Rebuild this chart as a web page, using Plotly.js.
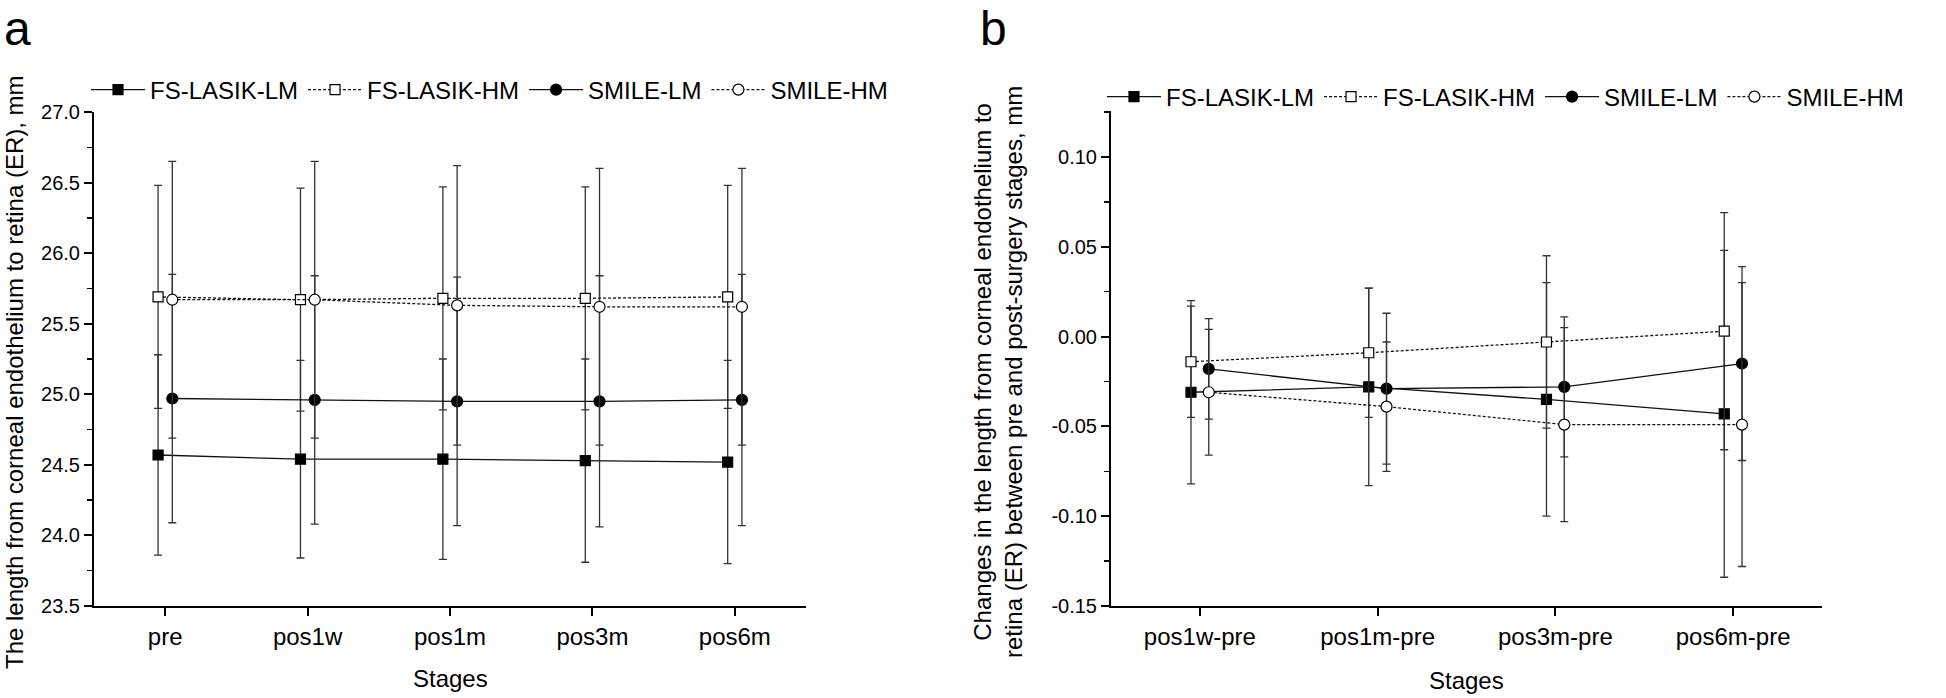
<!DOCTYPE html>
<html>
<head>
<meta charset="utf-8">
<script src="https://cdn.plot.ly/plotly-3.0.1.min.js"></script>
<style>
  html, body { margin: 0; padding: 0; background: #fff; }
  #chart { width: 1946px; height: 698px; }
</style>
</head>
<body>
<div id="chart"></div>
<script>
// ---------- data ----------
const seriesNames = ['FS-LASIK-LM', 'FS-LASIK-HM', 'SMILE-LM', 'SMILE-HM'];

// Panel a: ER length (mm) at each stage, mean and SD
const stagesA = ['pre', 'pos1w', 'pos1m', 'pos3m', 'pos6m'];
const fsLasikLM_A   = [24.57, 24.54, 24.54, 24.53, 24.52];
const fsLasikLM_Asd = [0.71, 0.70, 0.71, 0.72, 0.72];
const fsLasikHM_A   = [25.69, 25.67, 25.68, 25.68, 25.69];
const fsLasikHM_Asd = [0.79, 0.79, 0.79, 0.79, 0.79];
const smileLM_A     = [24.97, 24.96, 24.95, 24.95, 24.96];
const smileLM_Asd   = [0.88, 0.88, 0.88, 0.89, 0.89];
const smileHM_A     = [25.67, 25.67, 25.63, 25.62, 25.62];
const smileHM_Asd   = [0.98, 0.98, 0.99, 0.98, 0.98];
const yTicksA = [23.5, 24.0, 24.5, 25.0, 25.5, 26.0, 26.5, 27.0];
const yTickTextA = ['23.5', '24.0', '24.5', '25.0', '25.5', '26.0', '26.5', '27.0'];

// Panel b: change from pre (mm), mean and SD
const stagesB = ['pos1w-pre', 'pos1m-pre', 'pos3m-pre', 'pos6m-pre'];
const fsLasikLM_B   = [-0.031, -0.028, -0.035, -0.043];
const fsLasikLM_Bsd = [0.051, 0.055, 0.065, 0.091];
const fsLasikHM_B   = [-0.014, -0.009, -0.003, 0.003];
const fsLasikHM_Bsd = [0.031, 0.036, 0.048, 0.066];
const smileLM_B     = [-0.018, -0.029, -0.028, -0.015];
const smileLM_Bsd   = [0.028, 0.042, 0.039, 0.054];
const smileHM_B     = [-0.031, -0.039, -0.049, -0.049];
const smileHM_Bsd   = [0.035, 0.036, 0.054, 0.079];
const yTicksB = [-0.15, -0.10, -0.05, 0.00, 0.05, 0.10];
const yTickTextB = ['-0.15', '-0.10', '-0.05', '0.00', '0.05', '0.10'];

// ---------- styling ----------
const FONT = 'Liberation Sans, Arial, Helvetica, sans-serif';
const W = 1946, H = 698;
const px = v => v / W;            // pixel x -> paper
const py = v => 1 - v / H;        // pixel y (from top) -> paper

const styles = [
  { offset: -0.05, symbol: 'square', fill: '#000', dash: 'solid',   size: 10 },
  { offset: -0.05, symbol: 'square', fill: '#fff', dash: '3px,2px', size: 10 },
  { offset:  0.05, symbol: 'circle', fill: '#000', dash: 'solid',   size: 11 },
  { offset:  0.05, symbol: 'circle', fill: '#fff', dash: '3px,2px', size: 11 }
];

function makeTrace(name, cats, means, sds, st, xa, ya, legend) {
  return {
    type: 'scatter',
    mode: 'lines+markers',
    name: name,
    x: cats.map((_, i) => i + st.offset),
    y: means,
    xaxis: xa, yaxis: ya,
    legend: legend,
    line: { color: '#111', width: 1.3, dash: st.dash },
    marker: {
      symbol: st.symbol,
      size: st.size,
      color: st.fill,
      line: { color: '#000', width: 1.2 }
    },
    error_y: { type: 'data', array: sds, visible: true, color: '#333', thickness: 1.3, width: 4 },
    cliponaxis: false
  };
}

const seriesA = [
  [fsLasikLM_A, fsLasikLM_Asd], [fsLasikHM_A, fsLasikHM_Asd],
  [smileLM_A, smileLM_Asd], [smileHM_A, smileHM_Asd]
];
const seriesB = [
  [fsLasikLM_B, fsLasikLM_Bsd], [fsLasikHM_B, fsLasikHM_Bsd],
  [smileLM_B, smileLM_Bsd], [smileHM_B, smileHM_Bsd]
];

const traces = [];
seriesA.forEach((s, k) => traces.push(makeTrace(seriesNames[k], stagesA, s[0], s[1], styles[k], 'x', 'y', 'legend')));
seriesB.forEach((s, k) => traces.push(makeTrace(seriesNames[k], stagesB, s[0], s[1], styles[k], 'x2', 'y2', 'legend2')));

const axisCommon = {
  showline: true, linecolor: '#000', linewidth: 2,
  ticks: 'outside', ticklen: 8, tickwidth: 2, tickcolor: '#000',
  showgrid: false, zeroline: false, automargin: false,
  fixedrange: true
};

const legendCommon = {
  orientation: 'h', xanchor: 'left', yanchor: 'middle',
  font: { family: FONT, size: 24, color: '#000' },
  bgcolor: 'rgba(0,0,0,0)', itemwidth: 54, itemclick: false
};

const layout = {
  width: W, height: H,
  margin: { l: 0, r: 0, t: 0, b: 0, pad: 0 },
  paper_bgcolor: '#fff', plot_bgcolor: '#fff',
  font: { family: FONT, color: '#000' },
  xaxis: Object.assign({}, axisCommon, {
    domain: [px(94), px(806)], anchor: 'y',
    range: [-0.5, 4.5],
    tickmode: 'array', tickvals: stagesA.map((_, i) => i), ticktext: stagesA,
    tickfont: { family: FONT, size: 24, color: '#000' }
  }),
  yaxis: Object.assign({}, axisCommon, {
    domain: [py(606), py(112)], anchor: 'x',
    range: [23.5, 27.0],
    tickmode: 'array', tickvals: yTicksA, ticktext: yTickTextA,
    tickfont: { family: FONT, size: 20, color: '#000' },
    minor: { dtick: 0.25, tick0: 23.5, ticks: 'outside', ticklen: 5, tickwidth: 1.5, tickcolor: '#000', showgrid: false }
  }),
  xaxis2: Object.assign({}, axisCommon, {
    domain: [px(1111), px(1822)], anchor: 'y2',
    range: [-0.5, 3.5],
    tickmode: 'array', tickvals: stagesB.map((_, i) => i), ticktext: stagesB,
    tickfont: { family: FONT, size: 24, color: '#000' }
  }),
  yaxis2: Object.assign({}, axisCommon, {
    domain: [py(606), py(111)], anchor: 'x2',
    range: [-0.15, 0.1256],
    tickmode: 'array', tickvals: yTicksB, ticktext: yTickTextB,
    tickfont: { family: FONT, size: 20, color: '#000' },
    minor: { dtick: 0.025, tick0: -0.15, ticks: 'outside', ticklen: 5, tickwidth: 1.5, tickcolor: '#000', showgrid: false }
  }),
  legend: Object.assign({}, legendCommon, { x: px(86), y: py(90) }),
  legend2: Object.assign({}, legendCommon, { x: px(1102), y: py(97) }),
  showlegend: true,
  annotations: [
    { text: 'a', xref: 'paper', yref: 'paper', x: px(2), y: py(0), xanchor: 'left', yanchor: 'top',
      showarrow: false, font: { family: FONT, size: 48, color: '#000' } },
    { text: 'b', xref: 'paper', yref: 'paper', x: px(978), y: py(0), xanchor: 'left', yanchor: 'top',
      showarrow: false, font: { family: FONT, size: 48, color: '#000' } },
    { text: 'Stages', xref: 'paper', yref: 'paper', x: px(450), y: py(678), xanchor: 'center', yanchor: 'middle',
      showarrow: false, font: { family: FONT, size: 24, color: '#000' } },
    { text: 'Stages', xref: 'paper', yref: 'paper', x: px(1466), y: py(680), xanchor: 'center', yanchor: 'middle',
      showarrow: false, font: { family: FONT, size: 24, color: '#000' } },
    { text: 'The length from corneal endothelium to retina (ER), mm', xref: 'paper', yref: 'paper',
      x: px(14), y: py(372), xanchor: 'center', yanchor: 'middle', textangle: -90,
      showarrow: false, font: { family: FONT, size: 24, color: '#000' } },
    { text: 'Changes in the length from corneal endothelium to<br>retina (ER) between pre and post-surgery stages, mm',
      xref: 'paper', yref: 'paper',
      x: px(998), y: py(372), xanchor: 'center', yanchor: 'middle', textangle: -90,
      showarrow: false, font: { family: FONT, size: 24, color: '#000' } }
  ]
};

Plotly.newPlot('chart', traces, layout, { staticPlot: true, displayModeBar: false });
</script>
</body>
</html>
